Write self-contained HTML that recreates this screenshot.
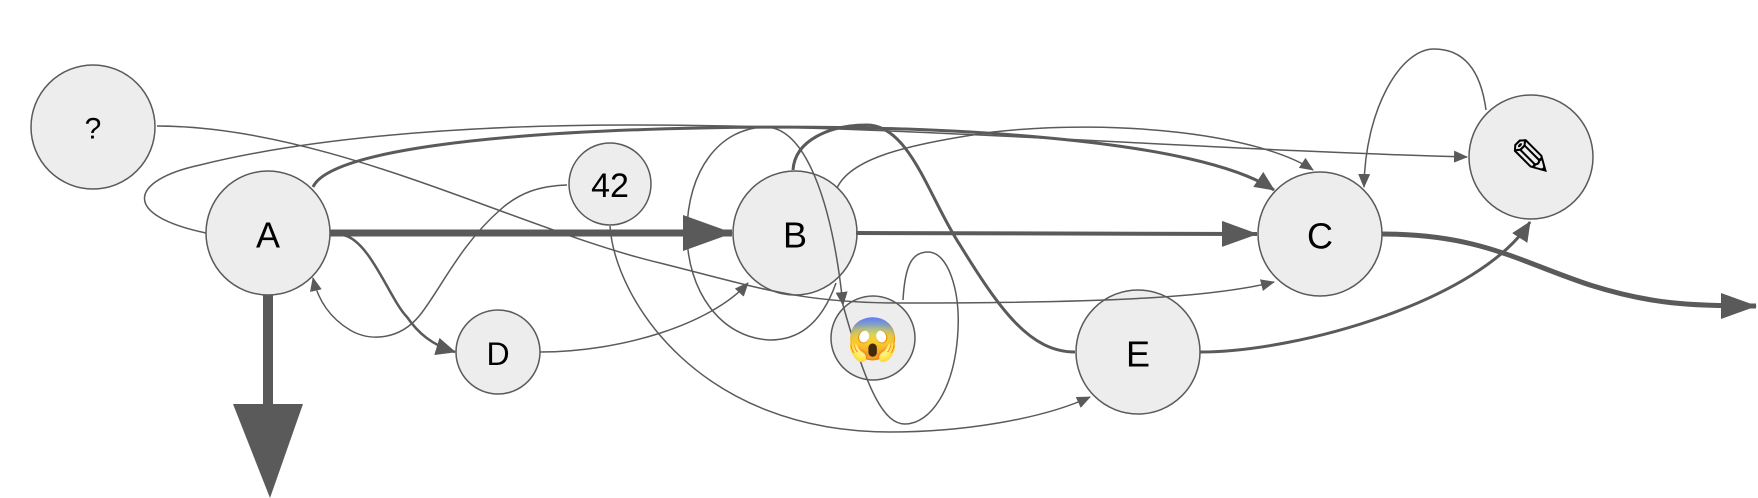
<!DOCTYPE html>
<html><head><meta charset="utf-8"><style>
html,body{margin:0;padding:0;background:#fff;}
svg{display:block;}
text{font-family:"Liberation Sans",sans-serif;fill:#000;text-anchor:middle;dominant-baseline:central;}
</style></head><body>
<svg width="1758" height="498" viewBox="0 0 1758 498" xmlns="http://www.w3.org/2000/svg">
<defs>
<marker id="s" markerUnits="userSpaceOnUse" markerWidth="14" markerHeight="12" refX="13" refY="6" orient="auto"><path d="M0,0 L14,6 L0,12 Z" fill="#5a5a5a"/></marker>
<marker id="m" markerUnits="userSpaceOnUse" markerWidth="20" markerHeight="18" refX="19" refY="9" orient="auto"><path d="M0,0 L20,9 L0,18 Z" fill="#5a5a5a"/></marker>
<marker id="l" markerUnits="userSpaceOnUse" markerWidth="36" markerHeight="26" refX="35" refY="13" orient="auto"><path d="M0,0 L36,13 L0,26 Z" fill="#5a5a5a"/></marker>
<marker id="xl" markerUnits="userSpaceOnUse" markerWidth="50" markerHeight="36" refX="49" refY="18" orient="auto"><path d="M0,0 L50,18 L0,36 Z" fill="#5a5a5a"/></marker>
</defs>
<g fill="#ededed" stroke="#5a5a5a" stroke-width="1.5">
<circle cx="93" cy="127" r="62"/>
<circle cx="268" cy="233" r="62"/>
<circle cx="610" cy="184" r="41"/>
<circle cx="795" cy="233" r="62"/>
<circle cx="498" cy="352" r="42"/>
<circle cx="873" cy="338" r="42"/>
<circle cx="1320" cy="234" r="62"/>
<circle cx="1531" cy="157" r="62"/>
<circle cx="1138" cy="352" r="62"/>
</g>
<g fill="none" stroke="#5a5a5a">
<line x1="268" y1="295" x2="268" y2="404" stroke-width="10"/>
<path d="M233,404 L303,404 L270,498 Z" fill="#5a5a5a" stroke="none"/>
<line x1="330" y1="233" x2="732" y2="233" stroke-width="7" marker-end="url(#xl)"/>
<path d="M856,233 L1257,234" stroke-width="4" marker-end="url(#l)"/>
<path d="M1382,234 C1480,234 1520,262 1590,285 C1650,304 1690,306 1756,306" stroke-width="5" marker-end="url(#l)"/>
<path d="M313,187 C330,150 500,132 700,128 C950,123 1200,140 1274,190" stroke-width="3" marker-end="url(#m)"/>
<path d="M343,235 C370,240 390,300 407,317 C418,333 432,345 455,352" stroke-width="2.5" marker-end="url(#m)"/>
<path d="M567,185 C540,186 520,192 500,210 C460,245 440,290 420,315 C400,340 370,342 350,330 C330,318 318,300 313,278" stroke-width="1.5" marker-end="url(#s)"/>
<path d="M157,126 C330,126 520,230 660,263 C760,288 800,303 900,303 C1100,303 1210,298 1274,282" stroke-width="1.5" marker-end="url(#s)"/>
<path d="M206,233 C120,215 130,180 200,165 C300,140 450,125 630,125 C900,125 1200,150 1467,157" stroke-width="1.5" marker-end="url(#s)"/>
<path d="M540,352 C620,352 710,325 748,283" stroke-width="1.5" marker-end="url(#s)"/>
<path d="M610,226 C615,300 700,432 890,432 C960,432 1040,420 1090,397" stroke-width="1.5" marker-end="url(#s)"/>
<path d="M836,283 C820,328 795,340 770,340 C720,338 687,290 687,233 C687,170 720,128 765,127 C805,127 832,200 843,305" stroke-width="1.5" marker-end="url(#s)"/>
<path d="M903,300 C905,265 912,252 928,252 C948,252 960,290 958,330 C955,390 930,424 905,424 C885,424 868,395 843,305" stroke-width="1.5"/>
<path d="M793,170 C795,140 830,125 867,125 C910,125 930,200 960,245 C1000,310 1030,352 1075,352" stroke-width="3"/>
<path d="M837,188 C850,160 900,145 993,132 C1120,118 1260,135 1313,170" stroke-width="1.5" marker-end="url(#s)"/>
<path d="M1486,110 C1480,65 1460,49 1434,49 C1400,49 1365,110 1364,187" stroke-width="1.5" marker-end="url(#s)"/>
<path d="M1200,352 C1300,352 1480,300 1530,222" stroke-width="3" marker-end="url(#m)"/>
</g>
<text x="93" y="129" font-size="30">?</text>
<text x="268" y="235" font-size="36">A</text>
<text x="610" y="186" font-size="34">42</text>
<text x="795" y="235" font-size="36">B</text>
<text x="498" y="354" font-size="32">D</text>
<text x="873" y="340" font-size="42" style="font-family:'Noto Color Emoji','DejaVu Sans',sans-serif">😱</text>
<text x="1320" y="236" font-size="36">C</text>
<text x="1531" y="159" font-size="52" style="font-family:'DejaVu Sans',sans-serif">✎</text>
<text x="1138" y="354" font-size="36">E</text>
</svg>
</body></html>
